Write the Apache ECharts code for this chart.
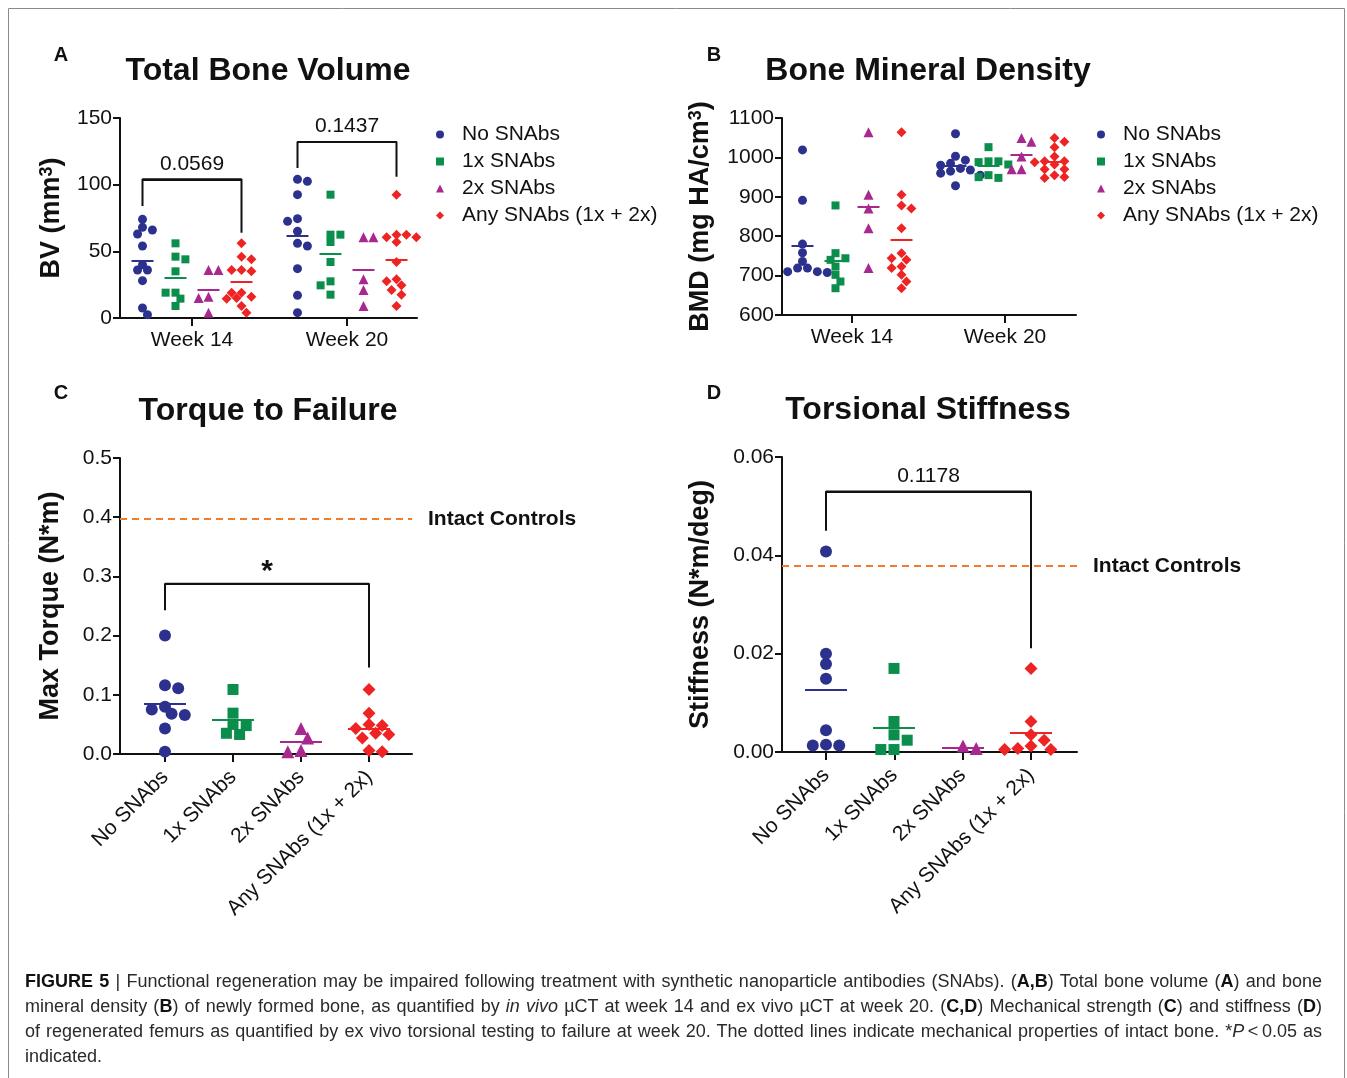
<!DOCTYPE html>
<html>
<head>
<meta charset="utf-8">
<script src="https://cdn.jsdelivr.net/npm/echarts@6/dist/echarts.min.js"></script>
<style>
html,body{margin:0;padding:0;background:#fff;}
#chart{position:absolute;left:0;top:0;width:1347px;height:1078px;}
#cap{position:absolute;left:25px;top:969px;width:1297px;font-family:"Liberation Sans Narrow","Liberation Sans",Arial,sans-serif;font-size:18px;color:#2a2a2a;}
#cap .ln{white-space:nowrap;height:25px;line-height:25px;width:max-content;transform-origin:left center;}
#cap b{font-weight:bold;color:#111;}
</style>
</head>
<body>
<div id="chart"></div>
<div id="cap">
<div class="ln"><b>FIGURE 5</b> | Functional regeneration may be impaired following treatment with synthetic nanoparticle antibodies (SNAbs). (<b>A,B</b>) Total bone volume (<b>A</b>) and bone</div>
<div class="ln">mineral density (<b>B</b>) of newly formed bone, as quantified by <i>in vivo</i> µCT at week 14 and ex vivo µCT at week 20. (<b>C,D</b>) Mechanical strength (<b>C</b>) and stiffness (<b>D</b>)</div>
<div class="ln">of regenerated femurs as quantified by ex vivo torsional testing to failure at week 20. The dotted lines indicate mechanical properties of intact bone. *<i>P</i>&thinsp;&lt;&thinsp;0.05 as</div>
<div class="ln">indicated.</div>
</div>
<script>
// ---------------- DATA ----------------
const groupNames = ['No SNAbs', '1x SNAbs', '2x SNAbs', 'Any SNAbs (1x + 2x)'];
const weeks = ['Week 14', 'Week 20'];

// Total bone volume (mm^3)
const bvWeek14 = [
  [74, 68, 66, 63, 54, 40, 36, 36, 28, 7.5, 2.5],
  [56, 46, 44, 35, 19, 19, 14.5, 9],
  [36, 36, 16, 15, 4],
  [56, 46, 44, 36, 36, 35, 19, 19, 16, 15, 14.5, 9, 4]
];
const bvWeek20 = [
  [104, 102.5, 92.5, 74.5, 72.5, 65, 56, 54, 37, 17, 4],
  [92.5, 62.5, 62.5, 57, 42, 27.5, 24.5, 17.5],
  [60.5, 60.5, 29, 21, 9],
  [92.5, 62.5, 62.5, 60.5, 60.5, 57, 42, 29, 27.5, 24.5, 21, 17.5, 9]
];
// Bone mineral density (mg HA/cm^3)
const bmdWeek14 = [
  [1019, 891, 780, 758, 736, 719, 719, 710, 710, 708],
  [878, 757, 744, 740, 723, 702, 685, 668],
  [1064, 905, 870, 820, 719],
  [1064, 905, 878, 870, 820, 757, 744, 740, 723, 719, 702, 685, 668]
];
const bmdWeek20 = [
  [1060, 1003, 993, 985, 980, 972, 968, 965, 960, 955, 928],
  [1026, 990, 990, 988, 982, 955, 950, 948],
  [1049, 1040, 1002, 970, 970],
  [1049, 1040, 1026, 1002, 990, 990, 988, 982, 970, 970, 955, 950, 948]
];
// Max torque (N*m)
const torque = [
  [0.200, 0.116, 0.111, 0.080, 0.075, 0.068, 0.066, 0.043, 0.004],
  [0.109, 0.069, 0.050, 0.048, 0.035, 0.033],
  [0.043, 0.027, 0.006, 0.004],
  [0.109, 0.069, 0.050, 0.048, 0.043, 0.035, 0.033, 0.027, 0.006, 0.004]
];
// Torsional stiffness (N*m/deg)
const stiffness = [
  [0.0408, 0.0200, 0.0179, 0.0149, 0.0044, 0.0015, 0.0013, 0.0013],
  [0.0170, 0.0062, 0.0035, 0.0024, 0.0005, 0.0005],
  [0.0012, 0.0007],
  [0.0170, 0.0062, 0.0035, 0.0024, 0.0012, 0.0007, 0.0005, 0.0005]
];
const intactTorque = 0.397;
const intactStiffness = 0.0378;

// comparison brackets: [left end, top, right end] in data units
const bracketA14 = [84, 104, 64];   const pA14 = '0.0569';
const bracketA20 = [112.5, 132, 106]; const pA20 = '0.1437';
const bracketC = [0.243, 0.2875, 0.146]; const pC = '*';
const bracketD = [0.045, 0.053, 0.0211]; const pD = '0.1178';

const ticksBV = [0, 50, 100, 150];
const ticksBMD = [600, 700, 800, 900, 1000, 1100];
const ticksTorque = [0, 0.1, 0.2, 0.3, 0.4, 0.5];
const ticksStiff = [0, 0.02, 0.04, 0.06];

// ---------------- STYLE / LAYOUT ----------------
const COLORS = ['#2D318E', '#0B8D4B', '#A7298F', '#EE2424'];
const SYMBOLS = ['circle', 'rect', 'triangle', 'diamond'];
const FONT = '"Liberation Sans", Arial, sans-serif';
const INK = '#111111';

const P = {
  A: {left: 120, top: 118, width: 297, height: 200, ticks: [192, 347], tickBand: 155, sub: 33, sym: 9, half: 11},
  B: {left: 782, top: 118, width: 294, height: 197, ticks: [852, 1005], tickBand: 153, sub: 33, sym: 9, half: 11},
  C: {left: 120, top: 458, width: 292, height: 296, ticks: [165, 233, 301, 369], tickBand: 68, sym: 12, half: 21},
  D: {left: 782, top: 457, width: 295, height: 295, ticks: [826, 894, 963, 1031], tickBand: 68.3, sym: 12, half: 21}
};

function symSize(g, s) {
  if (g === 1) return s - 1;
  if (g === 0) return s;
  return s + 1;
}

// deterministic swarm: spreads points horizontally so markers don't overlap much
function swarm(values, cx, pxPerY, ymin, d) {
  const order = values.map((v, i) => ({v, i})).sort((a, b) => b.v - a.v);
  const placed = [];
  const out = [];
  const step = d * 0.55;
  const minD2 = (d * 0.8) * (d * 0.8);
  let sign = 1;
  for (const p of order) {
    const y = (p.v - ymin) * pxPerY;
    let chosen = 0;
    for (let k = 0; k < 60; k++) {
      const cands = k === 0 ? [0] : [sign * k * step, -sign * k * step];
      let ok = null;
      for (const off of cands) {
        let hit = false;
        for (const q of placed) {
          const dx = q.x - off, dy = q.y - y;
          if (dx * dx + dy * dy < minD2) { hit = true; break; }
        }
        if (!hit) { ok = off; break; }
      }
      if (ok !== null) { chosen = ok; break; }
    }
    if (chosen !== 0) sign = -Math.sign(chosen);
    placed.push({x: chosen, y});
    out.push([cx + chosen, p.v]);
  }
  return out;
}
const mean = a => a.reduce((s, v) => s + v, 0) / a.length;

// ---------------- AXES ----------------
const grids = [], xAxes = [], yAxes = [], series = [];
const axisLineStyle = {color: INK, width: 2};
const nameRich = {
  a: {fontFamily: FONT, fontSize: 27, fontWeight: 'bold', color: INK},
  s: {fontFamily: FONT, fontSize: 18, fontWeight: 'bold', color: INK, verticalAlign: 'top'}
};

function addPanel(key, yCfg, catCfg) {
  const p = P[key];
  const gi = grids.length;
  grids.push({left: p.left, top: p.top, width: p.width, height: p.height, containLabel: false});
  xAxes.push({gridIndex: gi, type: 'value', min: 0, max: p.width, axisLine: {show: true, onZero: false, lineStyle: axisLineStyle},
    axisTick: {show: false}, axisLabel: {show: false}, splitLine: {show: false}});
  yAxes.push(Object.assign({gridIndex: gi, type: 'value', axisLine: {show: true, onZero: false, lineStyle: axisLineStyle},
    axisTick: {show: true, length: 7, lineStyle: axisLineStyle}, splitLine: {show: false},
    nameLocation: 'middle', nameRotate: 90,
    nameTextStyle: {fontFamily: FONT, fontSize: 27, fontWeight: 'bold', color: INK, rich: nameRich}}, yCfg));
  // category tick/label axis
  const ti = grids.length;
  const n = catCfg.data.length;
  const tl = p.ticks[0] - p.tickBand / 2;
  grids.push({left: tl, top: p.top, width: p.tickBand * n, height: p.height});
  xAxes.push({gridIndex: ti, type: 'category', data: catCfg.data, boundaryGap: true,
    axisLine: {show: false}, axisTick: {show: true, alignWithLabel: true, length: 8, lineStyle: axisLineStyle},
    axisLabel: Object.assign({fontFamily: FONT, fontSize: 21, color: INK, interval: 0}, catCfg.label),
    splitLine: {show: false}});
  yAxes.push({gridIndex: ti, type: 'value', show: false, min: 0, max: 1});
  return gi;
}

const labelFmt = (dec) => (v) => v.toFixed(dec);
const yLab = {fontFamily: FONT, fontSize: 21, color: INK, margin: 8};

const gA = addPanel('A', {min: ticksBV[0], max: ticksBV[ticksBV.length - 1], interval: 50, name: '{a|BV (mm}{s|3}{a|)}', nameGap: 55,
  axisLabel: Object.assign({formatter: labelFmt(0)}, yLab)}, {data: weeks, label: {margin: 12}});
const gB = addPanel('B', {min: ticksBMD[0], max: ticksBMD[ticksBMD.length - 1], interval: 100, name: '{a|BMD (mg HA/cm}{s|3}{a|)}', nameGap: 68,
  axisLabel: Object.assign({formatter: labelFmt(0)}, yLab)}, {data: weeks, label: {margin: 12}});
const gC = addPanel('C', {min: ticksTorque[0], max: ticksTorque[ticksTorque.length - 1], interval: 0.1, name: '{a|Max Torque (N*m)}', nameGap: 56,
  axisLabel: Object.assign({formatter: labelFmt(1)}, yLab)}, {data: groupNames, label: {rotate: 45, margin: 20}});
const gD = addPanel('D', {min: ticksStiff[0], max: ticksStiff[ticksStiff.length - 1], interval: 0.02, name: '{a|Stiffness (N*m/deg)}', nameGap: 68,
  axisLabel: Object.assign({formatter: labelFmt(2)}, yLab)}, {data: groupNames, label: {rotate: 45, margin: 20}});

// ---------------- SERIES ----------------
function scatterSeries(gi, g, data, means, p) {
  return {
    type: 'scatter', name: groupNames[g], xAxisIndex: gi, yAxisIndex: gi,
    symbol: SYMBOLS[g], symbolSize: symSize(g, p.sym),
    itemStyle: {color: COLORS[g], opacity: 1}, data: data, z: 3, silent: true,
    markLine: {silent: true, symbol: ['none', 'none'], animation: false, label: {show: false}, precision: 6,
      lineStyle: {color: COLORS[g], width: 2, type: 'solid'},
      data: means.map(m => [{coord: [m[0] - p.half, m[1]]}, {coord: [m[0] + p.half, m[1]]}])}
  };
}

// Panels A and B: two weeks x four groups
[[gA, 'A', bvWeek14, bvWeek20, 0, 150], [gB, 'B', bmdWeek14, bmdWeek20, 600, 1100]].forEach(([gi, key, w14, w20, ymin, ymax]) => {
  const p = P[key];
  const pxPerY = p.height / (ymax - ymin);
  for (let g = 0; g < 4; g++) {
    const data = [], means = [];
    [w14, w20].forEach((w, wi) => {
      const cx = p.ticks[wi] - p.left + (g - 1.5) * p.sub;
      data.push(...swarm(w[g], cx, pxPerY, ymin, p.sym));
      means.push([cx, mean(w[g])]);
    });
    series.push(scatterSeries(gi, g, data, means, p));
  }
});
// Panels C and D: four groups
[[gC, 'C', torque, 0, 0.5], [gD, 'D', stiffness, 0, 0.06]].forEach(([gi, key, vals, ymin, ymax]) => {
  const p = P[key];
  const pxPerY = p.height / (ymax - ymin);
  for (let g = 0; g < 4; g++) {
    const cx = p.ticks[g] - p.left;
    series.push(scatterSeries(gi, g, swarm(vals[g], cx, pxPerY, ymin, p.sym), [[cx, mean(vals[g])]], p));
  }
});

// brackets with p-value labels (and optional intact-control reference line)
function bracket(gi, x1, x2, b, text, labelStyle, intact) {
  const mlData = [[
    {coord: [x1, b[1]], lineStyle: {color: INK, width: 2, type: 'solid'},
      label: Object.assign({show: true, position: 'middle', formatter: text, fontFamily: FONT, fontSize: 21,
        color: INK, distance: 5}, labelStyle || {})},
    {coord: [x2, b[1]]}
  ]];
  if (intact !== undefined) {
    mlData.push({yAxis: intact, lineStyle: {color: '#F57A2C', width: 2, type: [7, 5]},
      label: {show: true, position: 'end', formatter: 'Intact Controls', fontFamily: FONT, fontSize: 21,
        fontWeight: 'bold', color: INK, distance: 16}});
  }
  return {
    type: 'line', xAxisIndex: gi, yAxisIndex: gi, symbol: 'none', silent: true, z: 2,
    lineStyle: {color: INK, width: 2}, data: [[x1, b[0]], [x1, b[1]], [x2, b[1]], [x2, b[2]]],
    markLine: {silent: true, symbol: ['none', 'none'], animation: false, precision: 6, data: mlData}
  };
}
const cxA = (wi, g) => P.A.ticks[wi] - P.A.left + (g - 1.5) * P.A.sub;
series.push(bracket(gA, cxA(0, 0), cxA(0, 3), bracketA14, pA14));
series.push(bracket(gA, cxA(1, 0), cxA(1, 3), bracketA20, pA20));
series.push(bracket(gC, P.C.ticks[0] - P.C.left, P.C.ticks[3] - P.C.left, bracketC, pC,
  {fontSize: 30, fontWeight: 'bold', distance: -3}, intactTorque));
series.push(bracket(gD, P.D.ticks[0] - P.D.left, P.D.ticks[3] - P.D.left, bracketD, pD, null, intactStiffness));

// legends
const legendData = groupNames.map((n, g) => ({name: n, icon: SYMBOLS[g]}));
const legends = [
  {left: 436, top: 124, padding: 0},
  {left: 1097, top: 124, padding: 0}
].map(l => Object.assign({
  orient: 'vertical', itemWidth: 8, itemHeight: 8, itemGap: 6, selectedMode: false,
  data: legendData,
  textStyle: {fontFamily: FONT, fontSize: 21, color: INK, lineHeight: 21, padding: [0, 0, 0, 13]}
}, l));

// titles and panel letters
function txt(x, y, text, size) {
  return {type: 'text', x: x, y: y, silent: true,
    style: {text: text, fontFamily: FONT, fontSize: size, fontWeight: 'bold', fill: '#111', align: 'center', verticalAlign: 'middle'}};
}
const graphics = [
  {type: 'rect', silent: true, shape: {x: 8.5, y: 8.5, width: 1336, height: 1100}, style: {fill: 'none', stroke: '#8a8a8a', lineWidth: 1}},
  txt(61, 55, 'A', 20), txt(714, 55, 'B', 20), txt(61, 393, 'C', 20), txt(714, 393, 'D', 20),
  txt(268, 71, 'Total Bone Volume', 32), txt(928, 71, 'Bone Mineral Density', 32),
  txt(268, 411, 'Torque to Failure', 32), txt(928, 410, 'Torsional Stiffness', 32)
];

const chart = echarts.init(document.getElementById('chart'), null, {renderer: 'canvas'});
chart.setOption({
  animation: false,
  backgroundColor: '#fff',
  grid: grids, xAxis: xAxes, yAxis: yAxes, series: series,
  legend: legends, graphic: graphics
});

// caption justification
const target = 1297;
const lines = document.querySelectorAll('#cap .ln');
lines.forEach((ln, i) => {
  if (i === lines.length - 1) return;
  const w = ln.getBoundingClientRect().width;
  if (w > target) {
    ln.style.transform = 'scaleX(' + (target / w) + ')';
  } else {
    const spaces = (ln.textContent.match(/ /g) || []).length;
    ln.style.wordSpacing = ((target - w) / spaces) + 'px';
  }
});
</script>
</body>
</html>
